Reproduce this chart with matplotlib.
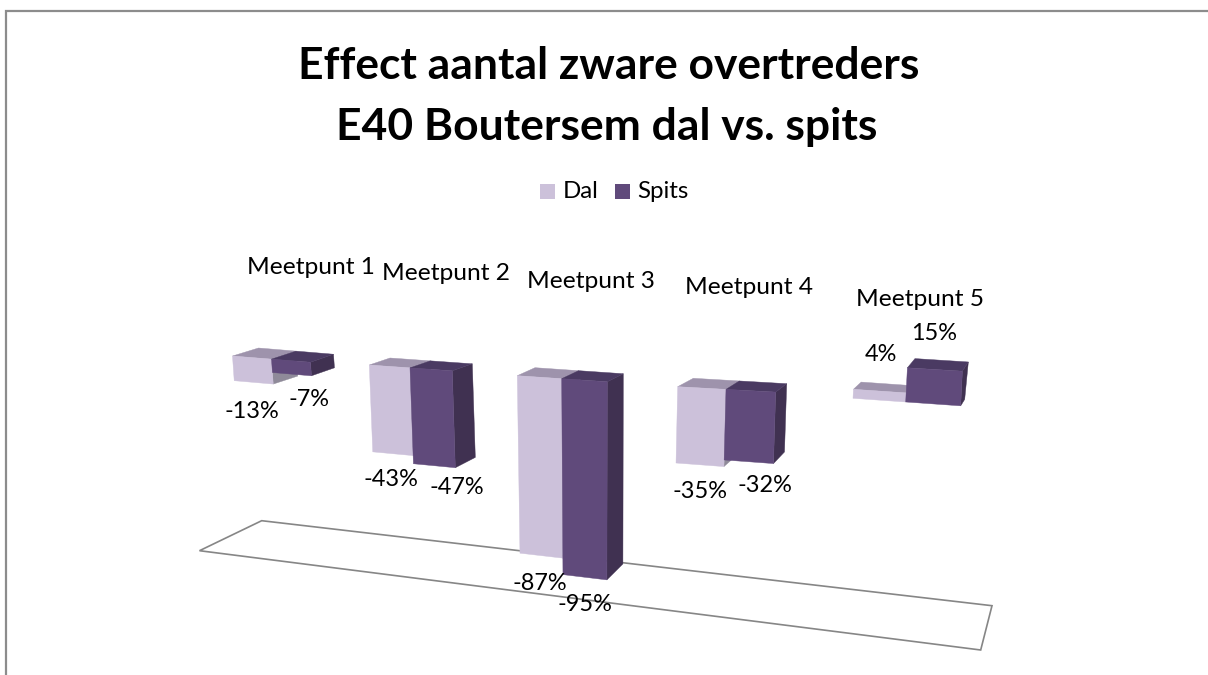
import matplotlib
matplotlib.use("Agg")
import matplotlib.pyplot as plt
from matplotlib.patches import Polygon, Rectangle

# ---- data ----
categories = ["Meetpunt 1", "Meetpunt 2", "Meetpunt 3", "Meetpunt 4", "Meetpunt 5"]
dal = [-13, -43, -87, -35, 4]
spits = [-7, -47, -95, -32, 15]
series_names = ["Dal", "Spits"]
title_lines = ["Effect aantal zware overtreders", "E40 Boutersem dal vs. spits"]

# ---- layout of the perspective projection (pixels), one entry per category ----
X0 = [232.5, 369.3, 517.3, 677.7, 853.0]
Y0 = [356.0, 365.0, 375.7, 386.7, 398.3]
W1 = [39.0, 40.7, 44.4, 48.3, 52.7]
W2 = [39.0, 42.3, 45.6, 49.7, 55.0]
SLOPE = [0.08, 0.07, 0.067, 0.055, 0.07]
SLOPE_K = 0.00025
SHRINK = [0, 0.0001, 0.00019, 0.0001, 0]
SCALE = [1.9, 2.02, 2.04, 2.18, 2.25]
LEAN = [0.07, 0.04, 0.015, -0.022, -0.05]
DXL = [26.0, 20.7, 17.7, 15.6, 7.2]
DXR = [23.0, 20.0, 16.0, 11.0, 4.0]
DXK = [0, 0, 0, 0, 0.058]
DY0 = [8.0, 7.0, 8.0, 8.4, 6.5]
DYK = [0, 0.035, 0.041, 0.046, -0.08]

CAT_POS = [(310.7, 267), (446, 273), (590.5, 282), (749, 288), (920, 299)]
DAL_POS = [(252, 411), (391, 480), (540, 584), (700.5, 491.5), (881, 354.5)]
SPITS_POS = [(308.5, 400), (456.5, 487), (585, 604.5), (765, 485), (934, 333.5)]

C = {
    "Dal": dict(front="#CCC1DA", top="#9E93AC", side="#8F8A99"),
    "Spits": dict(front="#604A7B", top="#4A3A62", side="#403151"),
}
FONT = "Lato"
PX = 0.72  # points per pixel at dpi 100

fig = plt.figure(figsize=(12.08, 6.75), dpi=100, facecolor="white")
ax = fig.add_axes([0, 0, 1, 1])
ax.set_xlim(0, 1208)
ax.set_ylim(675, 0)
ax.axis("off")

# chart frame
ax.plot([6, 6, 1208], [675, 10.5, 10.5], color="#8C8C8C", lw=1.6, solid_joinstyle="miter", zorder=1)

# floor
ax.add_patch(Polygon([(199.5, 550.7), (261.7, 520.7), (992, 605.7), (980.7, 650)], closed=True,
                     fill=False, ec="#868686", lw=1.2, zorder=2))


def draw_bar(i, start, width, value, col, z):
    def front(u, h):
        s = start + u
        return (X0[i] + s * (1 - SHRINK[i] * h) + LEAN[i] * h,
                Y0[i] + (SLOPE[i] + SLOPE_K * h) * s + h)

    def back(u, h):
        full = W1[i] + W2[i]
        t = (start + u) / full
        dx = DXL[i] + (DXR[i] - DXL[i]) * t - DXK[i] * h
        dy = DY0[i] + DYK[i] * h
        fx, fy = front(u, h)
        return (fx + dx, fy - dy)

    h_val = -value * SCALE[i]
    h_top, h_bot = min(h_val, 0), max(h_val, 0)
    top = [front(0, h_top), front(width, h_top), back(width, h_top), back(0, h_top)]
    side = [front(width, h_top), back(width, h_top), back(width, h_bot), front(width, h_bot)]
    face = [front(0, h_top), front(width, h_top), front(width, h_bot), front(0, h_bot)]
    for pts, c in ((side, col["side"]), (top, col["top"]), (face, col["front"])):
        ax.add_patch(Polygon(pts, closed=True, fc=c, ec=c, lw=0.3, zorder=z))


for i in range(len(categories)):
    draw_bar(i, 0, W1[i], dal[i], C["Dal"], 3 + i)
    draw_bar(i, W1[i], W2[i], spits[i], C["Spits"], 3 + i + 0.5)

txt = dict(family=FONT, color="black", ha="center", va="center", zorder=20)
for name, (x, y) in zip(categories, CAT_POS):
    ax.text(x, y, name, fontsize=24.5 * PX, **txt)
for v, (x, y) in zip(dal, DAL_POS):
    ax.text(x, y, f"{v}%", fontsize=23.5 * PX, **txt)
for v, (x, y) in zip(spits, SPITS_POS):
    ax.text(x, y, f"{v}%", fontsize=23.5 * PX, **txt)

ax.text(609, 66, title_lines[0], fontsize=44.4 * PX, fontweight="bold", **txt)
ax.text(607, 127, title_lines[1], fontsize=44.4 * PX, fontweight="bold", **txt)

# legend
ax.add_patch(Rectangle((540, 184), 15, 15, fc=C["Dal"]["front"], ec="none", zorder=5))
ax.add_patch(Rectangle((615, 184), 15, 15, fc=C["Spits"]["front"], ec="none", zorder=5))
ax.text(563, 191, series_names[0], fontsize=24 * PX, family=FONT, va="center", ha="left")
ax.text(637, 191, series_names[1], fontsize=24 * PX, family=FONT, va="center", ha="left")

fig.savefig("out.png", dpi=100, facecolor="white")
